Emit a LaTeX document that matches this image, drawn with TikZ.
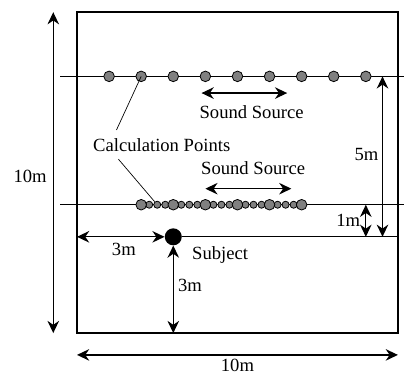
\documentclass[tikz,border=0pt]{standalone}
\usepackage{fontspec}
\setmainfont{Liberation Serif}
\usetikzlibrary{arrows.meta,positioning,calc}
\tikzset{
 dim/.style={{Stealth[length=3.8mm,width=3.6mm]}-{Stealth[length=3.8mm,width=3.6mm]},line width=1.1pt},
 lbl/.style={font=\fontsize{16.5}{18}\selectfont,inner sep=1pt},
 bigpt/.style={circle,draw,fill=gray,line width=0.7pt,minimum size=3.3mm,inner sep=0pt},
 smallpt/.style={circle,draw,fill=gray,line width=0.7pt,minimum size=2.2mm,inner sep=0pt},
}

\begin{document}
\begin{tikzpicture}
\useasboundingbox (-2.4,-1.27) rectangle (10.19,10.38);
% room, 1cm = 1m
\draw[line width=1.3pt] (0,0) rectangle (10,10);
\coordinate (farL) at (-0.53,8);
\coordinate (farR) at (10.19,8);
\coordinate (nearL) at (-0.53,4);
\coordinate (nearR) at (10.19,4);
\draw[line width=1.1pt] (farL) -- (farR);
\draw[line width=1.1pt] (nearL) -- (nearR);

% calculation points
\foreach \i in {1,...,9}
  \node[bigpt] (a\i) at (\i,8) {};
\foreach \i in {2,...,6}
  \foreach \j in {1,2,3}
    \node[smallpt] (b\i\j) at (\i+\j/4,4) {};
\foreach \i in {2,...,7}
  \node[bigpt] (b\i) at (\i,4) {};

% subject
\node[circle,fill=black,minimum size=5.3mm,inner sep=0pt] (subj) at (3,3) {};
\coordinate (wallE) at (10,3);
\coordinate (wallW) at (0,3);
\coordinate (floor) at (3,0);
\draw[line width=1.1pt] (subj) -- (wallE);
\draw[dim] (wallW) -- (subj.west);
\draw[dim] (subj.south) -- (floor);
\node[lbl] (subjlbl) at (4.46,2.44) {Subject};
\node[lbl] (xlbl) at (1.46,2.6) {3m};
\node[lbl] (ylbl) at (3.52,1.5) {3m};

% room size
\coordinate (vt) at (-0.74,10);
\coordinate (vb) at (-0.74,0);
\coordinate (hl) at (0,-0.68);
\coordinate (hr) at (10,-0.68);
\draw[dim] (vt) -- (vb);
\draw[dim] (hl) -- (hr);
\node[lbl] (hgt) at (-1.46,4.88) {10m};
\node[lbl] (wid) at (5,-1.0) {10m};

% distances to source lines
\coordinate (d5t) at (9.52,8);
\coordinate (d5b) at (9.52,3);
\coordinate (d1t) at (9.0,4);
\coordinate (d1b) at (9.0,3);
\draw[dim] (d5t) -- (d5b);
\draw[dim] (d1t) -- (d1b);
\node[lbl] (five) at (9.02,5.55) {5m};
\node[lbl] (one) at (8.45,3.5) {1m};

% sound sources
\coordinate (s1l) at (3.88,7.48);
\coordinate (s1r) at (6.55,7.48);
\coordinate (s2l) at (4.0,4.5);
\coordinate (s2r) at (6.68,4.5);
\draw[dim] (s1l) -- (s1r);
\draw[dim] (s2l) -- (s2r);
\node[lbl] (src1) at (5.44,6.87) {Sound Source};
\node[lbl] (src2) at (5.49,5.14) {Sound Source};

% leaders
\node[lbl] (cp) at (2.64,5.87) {Calculation Points};
\coordinate (cpa) at (1.23,6.33);
\coordinate (cpb) at (1.29,5.42);
\draw[line width=0.6pt] (cpa) -- (a2.center);
\draw[line width=0.6pt] (cpb) -- (b22);
\end{tikzpicture}
\end{document}
